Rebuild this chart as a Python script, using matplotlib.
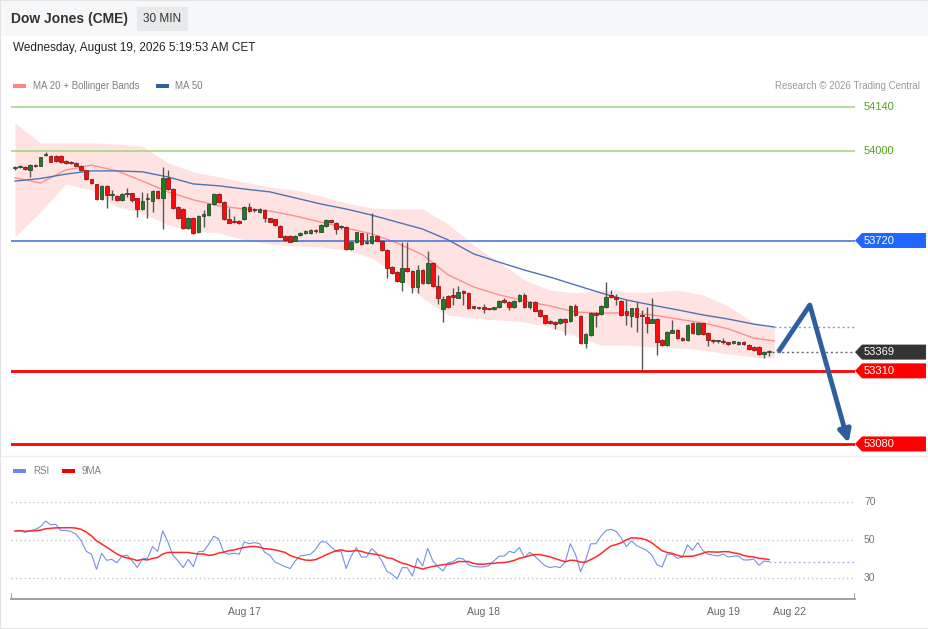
import numpy as np
import pandas as pd
import matplotlib
matplotlib.use("Agg")
from matplotlib import pyplot as plt
from matplotlib.patches import Rectangle, Polygon
from matplotlib.transforms import blended_transform_factory

plt.rcParams["font.family"] = ["Liberation Sans", "DejaVu Sans"]

# 30 min candles (open, close, high, low)
opens = [53947, 53951, 53950, 53942, 53956, 53954, 53989, 53987, 53987, 53987,
         53970, 53965, 53965, 53955, 53942, 53914, 53898, 53850, 53892, 53862,
         53860, 53848, 53866, 53869, 53853, 53819, 53849, 53844, 53876, 53855,
         53918, 53881, 53826, 53819, 53758, 53790, 53748, 53797, 53800, 53834,
         53865, 53841, 53787, 53781, 53782, 53787, 53825, 53816, 53811, 53816,
         53790, 53787, 53767, 53734, 53734, 53718, 53737, 53745, 53745, 53750,
         53748, 53767, 53783, 53774, 53761, 53764, 53692, 53716, 53743, 53711,
         53711, 53734, 53720, 53690, 53637, 53620, 53589, 53633, 53624, 53575,
         53627, 53585, 53650, 53577, 53505, 53546, 53549, 53540, 53561, 53556,
         53510, 53508, 53507, 53504, 53504, 53510, 53531, 53528, 53512, 53531,
         53549, 53510, 53528, 53501, 53486, 53468, 53465, 53460, 53472, 53468,
         53514, 53483, 53397, 53423, 53491, 53488, 53512, 53549, 53543, 53531,
         53499, 53483, 53507, 53482, 53480, 53462, 53472, 53407, 53391, 53430,
         53439, 53412, 53407, 53460, 53426, 53460, 53428, 53404, 53403, 53402,
         53400, 53399, 53394, 53402, 53391, 53386, 53386, 53362, 53368]
closes = [53948, 53953, 53944, 53958, 53954, 53982, 53991, 53968, 53970, 53966,
          53965, 53964, 53955, 53942, 53913, 53900, 53850, 53892, 53862, 53863,
          53848, 53866, 53869, 53848, 53819, 53845, 53850, 53876, 53855, 53918,
          53881, 53821, 53790, 53758, 53790, 53745, 53797, 53804, 53834, 53865,
          53840, 53788, 53776, 53777, 53774, 53825, 53814, 53815, 53818, 53790,
          53779, 53769, 53732, 53722, 53716, 53734, 53743, 53746, 53753, 53749,
          53769, 53785, 53777, 53756, 53762, 53692, 53716, 53746, 53709, 53712,
          53734, 53720, 53690, 53634, 53619, 53593, 53633, 53624, 53575, 53627,
          53585, 53650, 53577, 53538, 53536, 53512, 53543, 53559, 53556, 53507,
          53509, 53509, 53506, 53503, 53510, 53531, 53528, 53510, 53531, 53549,
          53512, 53528, 53499, 53483, 53460, 53460, 53457, 53472, 53465, 53514,
          53486, 53397, 53425, 53491, 53486, 53514, 53543, 53541, 53535, 53486,
          53486, 53507, 53480, 53481, 53460, 53472, 53402, 53391, 53433, 53439,
          53412, 53407, 53454, 53428, 53460, 53426, 53407, 53403, 53404, 53401,
          53394, 53400, 53402, 53394, 53378, 53376, 53362, 53370, 53369]
highs = [53954, 53959, 53955, 53961, 53962, 53984, 53997, 53989, 53989, 53989,
         53972, 53970, 53967, 53958, 53943, 53915, 53899, 53895, 53895, 53879,
         53863, 53870, 53885, 53871, 53855, 53872, 53870, 53879, 53879, 53952,
         53942, 53884, 53829, 53822, 53794, 53793, 53800, 53816, 53838, 53868,
         53868, 53844, 53821, 53797, 53785, 53827, 53837, 53822, 53822, 53819,
         53792, 53789, 53769, 53736, 53737, 53737, 53748, 53752, 53756, 53755,
         53772, 53788, 53786, 53778, 53769, 53766, 53720, 53748, 53745, 53743,
         53806, 53737, 53722, 53693, 53640, 53623, 53716, 53716, 53627, 53643,
         53630, 53688, 53652, 53612, 53546, 53549, 53571, 53578, 53564, 53558,
         53514, 53512, 53520, 53508, 53512, 53533, 53539, 53530, 53533, 53552,
         53555, 53531, 53530, 53503, 53487, 53470, 53468, 53475, 53475, 53517,
         53520, 53486, 53428, 53494, 53494, 53517, 53590, 53564, 53552, 53534,
         53533, 53509, 53528, 53501, 53512, 53538, 53475, 53410, 53435, 53470,
         53442, 53417, 53457, 53464, 53464, 53462, 53432, 53409, 53408, 53412,
         53402, 53403, 53404, 53404, 53395, 53388, 53388, 53374, 53377]
lows = [53942, 53948, 53942, 53921, 53951, 53953, 53986, 53967, 53968, 53964,
        53962, 53961, 53953, 53939, 53910, 53898, 53848, 53848, 53823, 53848,
        53844, 53844, 53857, 53842, 53795, 53816, 53791, 53811, 53852, 53755,
        53879, 53819, 53788, 53756, 53756, 53742, 53745, 53764, 53797, 53832,
        53838, 53785, 53774, 53774, 53772, 53785, 53811, 53810, 53808, 53779,
        53777, 53766, 53730, 53719, 53714, 53717, 53734, 53741, 53742, 53744,
        53747, 53764, 53775, 53740, 53756, 53690, 53689, 53712, 53706, 53708,
        53709, 53717, 53687, 53602, 53616, 53590, 53562, 53621, 53554, 53555,
        53583, 53583, 53574, 53519, 53463, 53508, 53517, 53538, 53517, 53505,
        53505, 53505, 53492, 53500, 53501, 53508, 53523, 53501, 53509, 53528,
        53508, 53506, 53497, 53480, 53457, 53457, 53441, 53457, 53423, 53465,
        53483, 53394, 53381, 53420, 53448, 53486, 53509, 53538, 53517, 53483,
        53454, 53449, 53433, 53313, 53428, 53459, 53360, 53388, 53388, 53428,
        53409, 53404, 53404, 53426, 53423, 53423, 53388, 53399, 53399, 53393,
        53391, 53396, 53391, 53391, 53376, 53373, 53360, 53350, 53358]

# indicators every 5 bars
ind_idx = list(range(0, 150, 5)) + [149]
bb_upper = [54090, 54027, 54027, 54027, 54024, 54017, 53964, 53936, 53920, 53904,
            53888, 53879, 53860, 53838, 53822, 53819, 53819, 53772, 53706, 53652,
            53596, 53564, 53555, 53564, 53558, 53558, 53564, 53549, 53514, 53461, 53451]
ma20 = [53917, 53901, 53942, 53957, 53939, 53907, 53873, 53848, 53829, 53819,
        53813, 53797, 53778, 53759, 53741, 53712, 53675, 53612, 53574, 53549,
        53530, 53514, 53495, 53492, 53492, 53486, 53473, 53461, 53442, 53413, 53404]
bb_lower = [53731, 53810, 53898, 53879, 53826, 53807, 53769, 53750, 53744, 53722,
            53709, 53703, 53700, 53690, 53665, 53612, 53539, 53486, 53476, 53470,
            53464, 53448, 53420, 53391, 53391, 53385, 53382, 53376, 53363, 53354, 53350]
ma50 = [53907, 53915, 53929, 53939, 53939, 53936, 53920, 53898, 53892, 53882,
        53873, 53854, 53835, 53819, 53800, 53778, 53756, 53722, 53678, 53652,
        53627, 53605, 53580, 53555, 53533, 53517, 53502, 53486, 53473, 53457, 53448]

rsi = [54.7, 55, 54, 55, 55.5, 57, 60, 58, 58.2, 55,
       55, 54.5, 53, 49.5, 44, 42.5, 34.6, 43, 39.3, 39.8,
       38, 41.5, 42, 39, 35.5, 40, 40.4, 46.5, 44, 54.7,
       49, 42, 39, 35.5, 39.8, 36, 43.9, 44, 47.7, 52,
       50.5, 43.3, 42.5, 43, 42.5, 49, 48, 48.6, 48.1, 43.5,
       42, 38.5, 37.2, 36, 35, 39, 41.6, 42, 42.5, 45,
       49, 49, 46.5, 44, 44, 35, 41.6, 46, 41, 41,
       45.5, 43, 39, 33.5, 32, 29.5, 35.5, 35.4, 31, 40.4,
       36.3, 45.6, 39, 36, 33.7, 38, 38.6, 40.5, 40, 37,
       36, 35.8, 35.8, 36.5, 39, 41.5, 41.5, 44, 43.3, 46,
       40.7, 43.5, 41.5, 39, 36.5, 35.5, 36, 35.5, 38.5, 48,
       42.5, 33.3, 39.5, 48, 48, 52, 55, 55.6, 54.5, 51,
       46.5, 49.5, 47, 45.8, 44.5, 42, 37, 35.8, 42.5, 42.5,
       40.3, 41, 47.4, 44.6, 48.6, 44.5, 42.5, 42, 41.6, 42.5,
       41, 41.5, 41.5, 39.5, 39.5, 40, 36.7, 38.9, 38.6]

levels = [54140, 54000, 53720, 53369, 53310, 53080]
level_colors = ["#9fd47c", "#9fd47c", "#3b6fd6", None, "#ff0000", "#ff0000"]
label_colors = [None, None, "#1f66ff", "#333333", "#ff0000", "#ff0000"]

forecast_idx = [149.8, 156.0, 163.6]
forecast_px = [53369, 53517, 53083]

date_ticks = [45, 92, 139, 152]
date_labels = ["Aug 17", "Aug 18", "Aug 19", "Aug 22"]

W, H = 929, 629


def fx(px):
    return px / W


def fy(py):
    return 1 - py / H


fig = plt.figure(figsize=(W / 100, H / 100), dpi=100)
fig.patch.set_facecolor("white")

# header
fig.patches.append(Rectangle((0, fy(36)), 1, 36 / H, transform=fig.transFigure,
                             facecolor="#f6f7f9", edgecolor="none", zorder=0))
fig.patches.append(Rectangle((fx(137), fy(31)), 51 / W, 24 / H, transform=fig.transFigure,
                             facecolor="#e8e9eb", edgecolor="none", zorder=1))
fig.patches.append(Rectangle((0, 0), 1, 1, transform=fig.transFigure, fill=False,
                             edgecolor="#e2e2e2", lw=1.5, zorder=5))
fig.add_artist(plt.Line2D([0, 1], [fy(456), fy(456)], color="#eeeeee", lw=1))
fig.text(fx(11), fy(19), "Dow Jones (CME)", fontsize=10, fontweight="bold",
         color="#333333", va="center")
fig.text(fx(162.5), fy(19), "30 MIN", fontsize=8.5, color="#333333", va="center", ha="center")
fig.text(fx(13), fy(48), "Wednesday, August 19, 2026 5:19:53 AM CET", fontsize=8.5,
         color="#222222", va="center")

# legends
fig.patches.append(Rectangle((fx(13), fy(88)), 13 / W, 4 / H, transform=fig.transFigure,
                             facecolor="#ff8585", edgecolor="none"))
fig.text(fx(33), fy(86), "MA 20 + Bollinger Bands", fontsize=7, color="#808080", va="center")
fig.patches.append(Rectangle((fx(156), fy(88)), 13 / W, 4 / H, transform=fig.transFigure,
                             facecolor="#33609f", edgecolor="none"))
fig.text(fx(175), fy(86), "MA 50", fontsize=7, color="#808080", va="center")
fig.text(fx(920), fy(86), "Research \u00a9 2026 Trading Central", fontsize=7,
         color="#999999", va="center", ha="right")

fig.patches.append(Rectangle((fx(13), fy(473)), 13 / W, 4 / H, transform=fig.transFigure,
                             facecolor="#6b8ce6", edgecolor="none"))
fig.text(fx(33), fy(471), "RSI", fontsize=7, color="#808080", va="center")
fig.patches.append(Rectangle((fx(62), fy(473)), 13 / W, 4 / H, transform=fig.transFigure,
                             facecolor="#ee0000", edgecolor="none"))
fig.text(fx(82), fy(471), "9MA", fontsize=7, color="#808080", va="center")

# price panel
ax = fig.add_axes([fx(11), fy(455), 844 / W, 360 / H])
x0 = (11 - 15) / 5.095
x1 = (855 - 15) / 5.095
ax.set_xlim(x0, x1)
ax.set_ylim(53045.3, 54177.7)
ax.axis("off")

ax.fill_between(ind_idx, bb_lower, bb_upper, color="#ffe3e3", lw=0, zorder=1)
ax.plot(ind_idx, ma20, color="#ff8f8f", lw=1, zorder=2)
ax.plot(ind_idx, ma50, color="#4f74b3", lw=1, zorder=2)

for lv, c in zip(levels, level_colors):
    if c is None:
        continue
    lw = 2 if c == "#ff0000" else 1.1
    ax.axhline(lv, color=c, lw=lw, zorder=3)

# extension dotted lines
ax.plot([ind_idx[-1], x1], [ma50[-1], ma50[-1]], color="#8b9cbc", lw=1,
        ls=(0, (1.5, 2)), zorder=3)
ax.plot([len(closes) - 0.5, x1], [closes[-1], closes[-1]], color="#666666", lw=1,
        ls=(0, (1.5, 2)), zorder=3)

idx = np.arange(len(closes))
o = np.array(opens)
c = np.array(closes)
up = c >= o
ax.vlines(idx, lows, highs, color="#555555", lw=1, zorder=4)
body = np.maximum(np.abs(c - o), 4)
bottom = np.minimum(o, c)
ax.bar(idx[up], body[up], bottom=bottom[up], width=0.72, color="#1f7d1f",
       edgecolor="#2c4a2c", lw=0.6, zorder=5)
ax.bar(idx[~up], body[~up], bottom=bottom[~up], width=0.72, color="#ff0a0a",
       edgecolor="#8a1a1a", lw=0.6, zorder=5)

# forecast arrow
ax.plot(forecast_idx[:2], forecast_px[:2], color="#2f5e9e", lw=3.5,
        solid_capstyle="butt", solid_joinstyle="miter", zorder=6)
ax.annotate("", xy=(forecast_idx[2], forecast_px[2]),
            xytext=(forecast_idx[1], forecast_px[1]),
            arrowprops=dict(arrowstyle="-|>", color="#2f5e9e", lw=3.5,
                            mutation_scale=18, shrinkA=0, shrinkB=0),
            zorder=6)

# level labels
tr = blended_transform_factory(fig.transFigure, ax.transData)
hh = 7.5 / 0.3179
for lv, lc, c_line in zip(levels, label_colors, level_colors):
    if lc is None:
        ax.text(fx(864), lv, f"{lv}", transform=tr, fontsize=8, color="#5a9e1e",
                va="center", clip_on=False)
        continue
    verts = [(fx(855), lv), (fx(862), lv + hh), (fx(926), lv + hh),
             (fx(926), lv - hh), (fx(862), lv - hh)]
    ax.add_patch(Polygon(verts, closed=True, transform=tr, facecolor=lc,
                         edgecolor="none", clip_on=False, zorder=7))
    ax.text(fx(864), lv, f"{lv}", transform=tr, fontsize=8, color="white",
            va="center", clip_on=False, zorder=8)

# RSI panel
ax2 = fig.add_axes([fx(11), fy(599), 844 / W, (599 - 482) / H])
ax2.set_xlim(x0, x1)
ax2.set_ylim(18.95, 80.5)
for s in ["top", "left", "right"]:
    ax2.spines[s].set_visible(False)
ax2.spines["bottom"].set_color("#999999")
ax2.spines["bottom"].set_linewidth(1.3)
ax2.set_yticks([])
for g in [30, 50, 70]:
    ax2.axhline(g, color="#bbbbbb", lw=0.9, ls=(0, (1, 2.5)))
    ax2.text(fx(864), g, str(g), transform=blended_transform_factory(fig.transFigure, ax2.transData),
             fontsize=7.5, color="#777777", va="center", clip_on=False)
for xe in [x0, x1]:
    ax2.axvline(xe, ymin=0, ymax=0.045, color="#999999", lw=1.3)

rsi_s = pd.Series(rsi)
rsi_ma = rsi_s.rolling(9, min_periods=1).mean()
ax2.plot(idx, rsi_s, color="#7391e8", lw=0.8, zorder=3)
ax2.plot(idx, rsi_ma, color="#ff2a2a", lw=1.1, zorder=4)
ax2.plot([len(rsi) - 1, x1], [rsi[-1], rsi[-1]], color="#a6b7ee", lw=1,
         ls=(0, (1.5, 2)), zorder=2)

ax2.set_xticks(date_ticks)
ax2.set_xticklabels(date_labels, fontsize=7.5, color="#666666")
ax2.tick_params(axis="x", length=0, pad=6)

fig.savefig("out.png", dpi=100)
